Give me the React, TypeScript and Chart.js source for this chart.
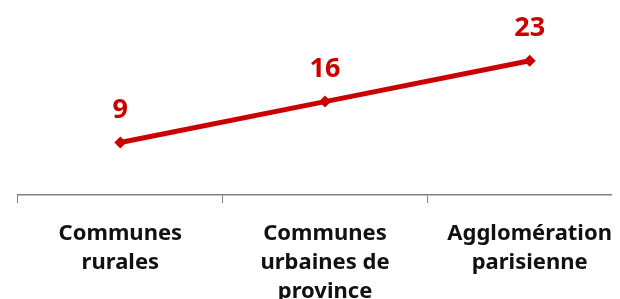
import React, { useEffect, useRef } from "react";
import { Chart, registerables } from "chart.js";

Chart.register(...registerables);

const categories: string[][] = [
  ["Communes", "rurales"],
  ["Communes", "urbaines de", "province"],
  ["Agglomération", "parisienne"],
];
const values: number[] = [9, 16, 23];

const RED = "#CC0000";
const AXIS = "#808080";

const valueLabels = {
  id: "valueLabels",
  afterDatasetsDraw(chart: any) {
    const ctx = chart.ctx;
    const meta = chart.getDatasetMeta(0);
    ctx.save();
    ctx.font = 'bold 27px "Noto Sans"';
    ctx.fillStyle = RED;
    ctx.textAlign = "center";
    ctx.textBaseline = "middle";
    meta.data.forEach((pt: any, i: number) => {
      ctx.fillText(String(values[i]), pt.x, pt.y - 32);
    });
    ctx.restore();
  },
};

export default function App() {
  const ref = useRef<HTMLCanvasElement | null>(null);
  useEffect(() => {
    if (!ref.current) return;
    const chart = new Chart(ref.current, {
      type: "line",
      data: {
        labels: categories,
        datasets: [
          {
            data: values,
            borderColor: RED,
            backgroundColor: RED,
            borderWidth: 5,
            pointStyle: "rectRot",
            pointRadius: 6,
            pointBorderWidth: 0,
            pointBackgroundColor: RED,
            tension: 0,
            clip: false as any,
          },
        ],
      },
      options: {
        animation: false,
        responsive: false,
        devicePixelRatio: 1,
        layout: { padding: { left: 10, right: 1, top: 1, bottom: 0 } },
        plugins: { legend: { display: false }, tooltip: { enabled: false } },
        scales: {
          x: {
            type: "category",
            offset: true,
            grid: {
              offset: true,
              drawOnChartArea: false,
              drawTicks: true,
              tickLength: 8,
              color: AXIS,
              lineWidth: 1,
            },
            border: { display: true, color: AXIS, width: 1.5 },
            ticks: {
              color: "#111111",
              font: { family: '"Noto Sans"', size: 22, weight: "bold", lineHeight: 29 / 22 },
              padding: 16,
              maxRotation: 0,
              minRotation: 0,
              autoSkip: false,
            },
            afterFit: (scale: any) => {
              scale.height = 113;
            },
          },
          y: {
            display: false,
            min: 0,
            max: 31,
          },
        },
      },
      plugins: [valueLabels],
    });
    return () => chart.destroy();
  }, []);
  return (
    <div style={{ width: 612, height: 291, overflow: "hidden" }}>
      <canvas ref={ref} width={630} height={300} style={{ display: "block", width: 630, height: 300 }} />
    </div>
  );
}
